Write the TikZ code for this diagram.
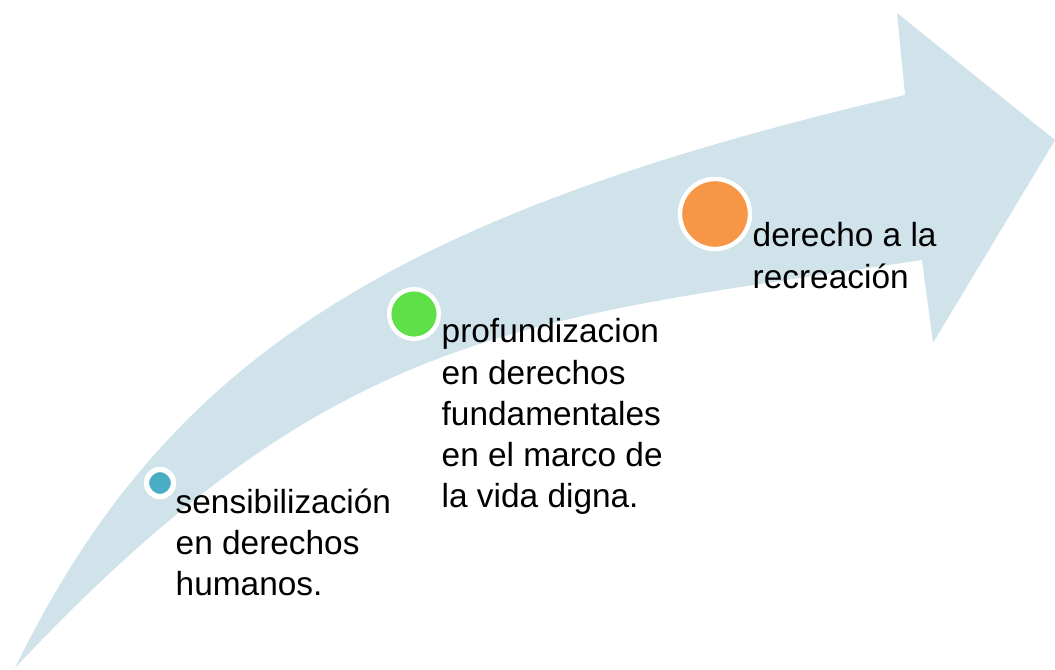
\documentclass[tikz,border=0pt]{standalone}
\usepackage{fontspec}
\setmainfont{Liberation Sans}
\definecolor{arrowblue}{HTML}{D0E3EB}
\definecolor{dotblue}{HTML}{4BACC6}
\definecolor{dotgreen}{HTML}{60E048}
\definecolor{dotorange}{HTML}{F79646}
\begin{document}
\begin{tikzpicture}[x=0.01cm,y=-0.01cm,
  dot/.style={circle,draw=white,inner sep=0pt},
  label/.style={anchor=north west,inner sep=0pt,align=left,
    font=\fontsize{9.5pt}{11.7pt}\selectfont,text=black}]
\useasboundingbox (0,0) rectangle (1055,669);
% big curved arrow
\fill[arrowblue] (15,668) .. controls (165,360) and (390,215) .. (905,95)
  -- (897,13) -- (1055,140) -- (933,343) -- (922,260)
  .. controls (524,320) and (337,325) .. (15,668) -- cycle;
% dots
\node[dot,fill=dotblue,minimum size=0.27cm,line width=1.5pt] (d1) at (160,483) {};
\node[dot,fill=dotgreen,minimum size=0.496cm,line width=1.25pt] (d2) at (414,314) {};
\node[dot,fill=dotorange,minimum size=0.70cm,line width=1.25pt] (d3) at (715,214) {};
% texts
\node[label] (t1) at (175,488) {sensibilización\\en derechos\\humanos.};
\node[label] (t2) at (441,318) {profundizacion\\en derechos\\fundamentales\\en el marco de\\la vida digna.};
\node[label] (t3) at (752,222) {derecho a la\\recreación};
\end{tikzpicture}
\end{document}
